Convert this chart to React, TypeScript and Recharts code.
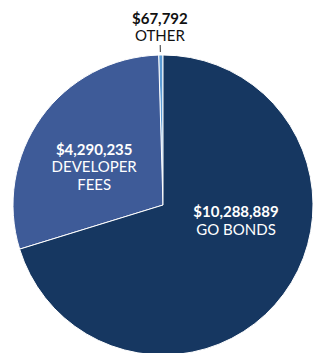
import React from 'react';
import { PieChart, Pie, Cell } from 'recharts';

const categories = ['OTHER', 'DEVELOPER\nFEES', 'GO BONDS'];
const amounts = [67792, 4290235, 10288889];
const colors = ['#5b9bd5', '#3e5b98', '#163761'];

// label placement: angle (deg) and radius factor relative to outerRadius
const labelAngles = [91, 150.5, 348.4];
const labelRadii = [1.19, 0.527, 0.497];
const labelColors = ['#111111', '#ffffff', '#ffffff'];

const data = categories.map((name, i) => ({ name, value: amounts[i] }));

const RAD = Math.PI / 180;
const LINE_H = 17.5;

const renderLabel = (props: any) => {
  const { cx, cy, outerRadius, index } = props;
  const a = labelAngles[index] * RAD;
  const r = outerRadius * labelRadii[index];
  const x = cx + Math.cos(a) * r;
  const y = cy - Math.sin(a) * r;
  const lines = ['$' + amounts[index].toLocaleString('en-US'), ...categories[index].split('\n')];
  const n = lines.length;
  return (
    <g key={'lbl' + index}>
      {index === 0 && (
        <line
          x1={cx + Math.cos(a) * (outerRadius + 3)}
          y1={cy - Math.sin(a) * (outerRadius + 3)}
          x2={cx + Math.cos(a) * (outerRadius + 10)}
          y2={cy - Math.sin(a) * (outerRadius + 10)}
          stroke="#333"
          strokeWidth={1}
        />
      )}
      <text
        x={x}
        y={y}
        textAnchor="middle"
        fill={labelColors[index]}
        fontFamily="Lato, sans-serif"
        fontSize={15}
      >
        {lines.map((ln, i) => (
          <tspan
            key={i}
            x={x}
            y={y + (i - (n - 1) / 2) * LINE_H}
            dominantBaseline="central"
            fontWeight={i === 0 ? 700 : 400}
          >
            {ln}
          </tspan>
        ))}
      </text>
    </g>
  );
};

export default function App() {
  return (
    <div style={{ position: 'absolute', left: 0, top: 0, width: 314, height: 353, background: '#fff' }}>
      <PieChart width={314} height={353} margin={{ top: 0, right: 0, bottom: 0, left: 0 }}>
        <Pie
          data={data}
          dataKey="value"
          nameKey="name"
          cx={163}
          cy={205}
          outerRadius={150}
          startAngle={90}
          endAngle={450}
          stroke="#ffffff"
          strokeWidth={1}
          label={renderLabel}
          labelLine={false}
          isAnimationActive={false}
        >
          {data.map((d, i) => (
            <Cell key={d.name} fill={colors[i]} />
          ))}
        </Pie>
      </PieChart>
    </div>
  );
}
